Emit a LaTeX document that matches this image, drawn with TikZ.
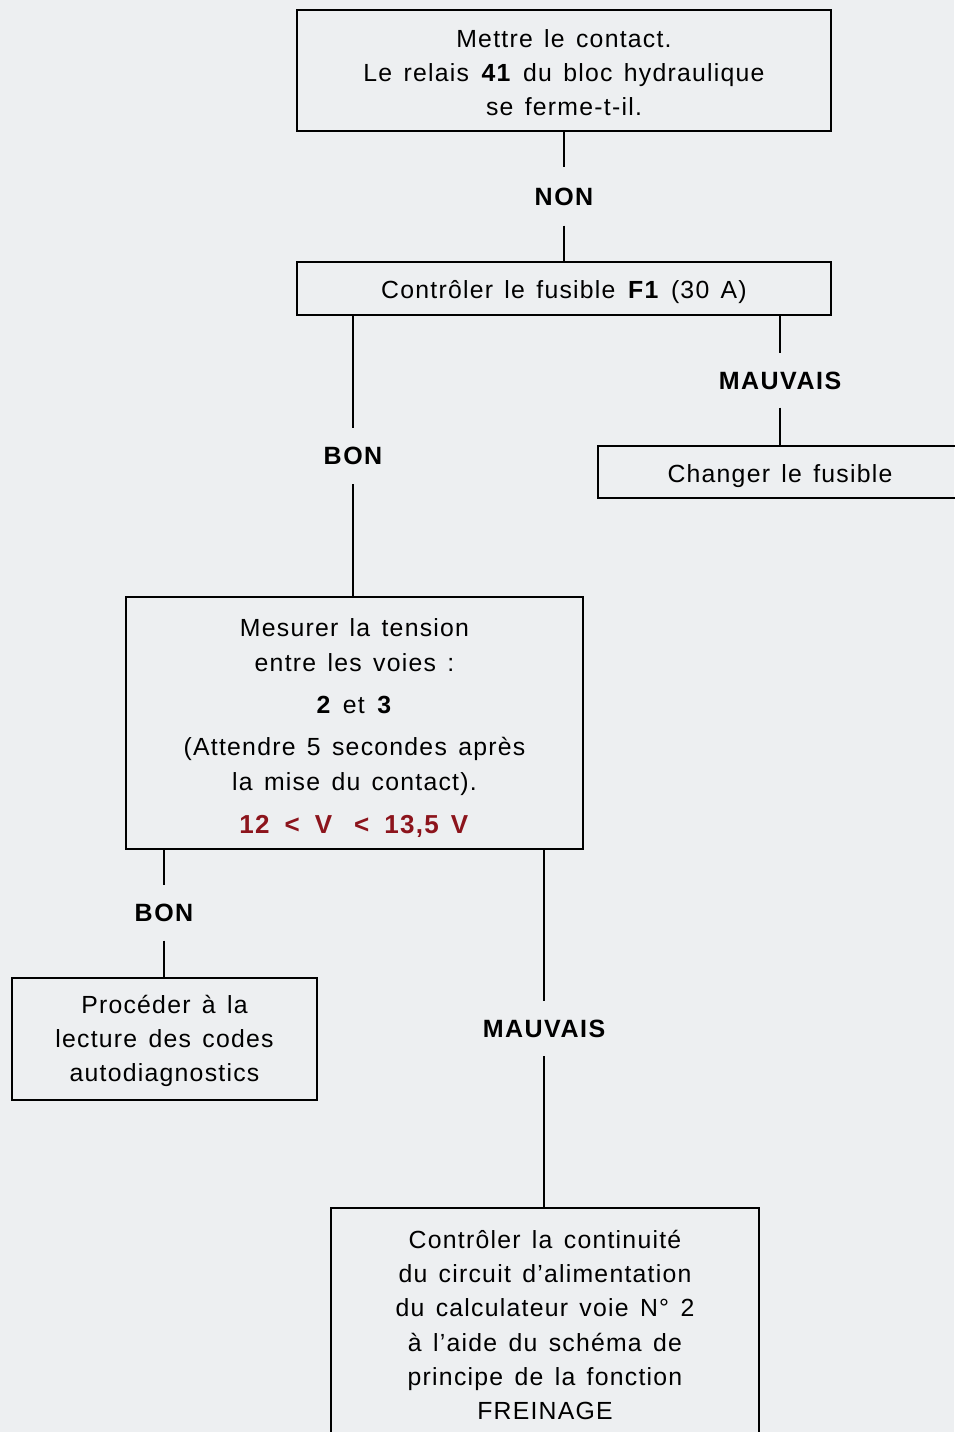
\documentclass[tikz,border=0pt]{standalone}
\usepackage{fontspec}
\setmainfont{Liberation Sans}[LetterSpace=5,WordSpace=1.4]
\newfontfamily\labfam{Liberation Sans}[LetterSpace=6]
\definecolor{bg}{RGB}{237,239,241}
\definecolor{rd}{RGB}{140,20,28}
\newcommand{\gp}{\hspace{15pt}}
\newcommand{\dn}[1]{\rule{0pt}{\dimexpr18.5pt+#1\relax}}
\tikzset{
  box/.style={draw, line width=1.8pt, align=center, inner sep=0pt, font=\fontsize{24.8}{34.3}\selectfont},
  lab/.style={inner sep=0pt, font=\labfam\bfseries\fontsize{25}{28}\selectfont},
  wire/.style={line width=1.8pt}
}
\begin{document}
\begin{tikzpicture}[x=1pt,y=-1pt]
\useasboundingbox (0,0) rectangle (954,1432);
\fill[bg] (0,0) rectangle (954,1432);
\node[box, minimum width=534, minimum height=121] (b1) at (564,70.5)
  {\dn{4pt}Mettre le contact.\\Le relais \textbf{41} du bloc hydraulique\\se ferme-t-il.};
\node[box, minimum width=534, minimum height=53] (b2) at (564,288.5)
  {\dn{6pt}Contrôler le fusible \textbf{F1} (30 A)};
\node[box, minimum width=364, minimum height=52] (b3) at (780,472)
  {\dn{7pt}Changer le fusible};
\node[box, minimum width=457, minimum height=252] (b4) at (354.5,723)
  {\dn{10pt}Mesurer la tension\\entre les voies :\\[8pt]\textbf{2} et \textbf{3}\\[8pt](Attendre 5 secondes après\\la mise du contact).\\[9pt]\textcolor{rd}{\fontsize{26}{30}\selectfont\textbf{12\gp<\gp V\gp\hspace{7pt}<\gp13,5 V}}};
\node[box, minimum width=305, minimum height=122] (b5) at (164.5,1039)
  {\dn{4pt}Procéder à la\\lecture des codes\\autodiagnostics};
\node[box, minimum width=428, minimum height=234] (b6) at (545,1325)
  {Contrôler la continuité\\du circuit d'alimentation\\du calculateur voie N° 2\\à l'aide du schéma de\\principe de la fonction\\FREINAGE};
% labels
\node[lab, minimum height=58] (non) at (564,196.5) {NON};
\node[lab, minimum height=56] (bon1) at (353,456) {BON};
\node[lab, minimum height=54] (mau1) at (780,380.5) {MAUVAIS};
\node[lab, minimum height=55] (bon2) at (164,913) {BON};
\node[lab, minimum height=55] (mau2) at (544,1028.5) {MAUVAIS};
% connectors
\draw[wire] (b1.south -| non) -- (non.north);
\draw[wire] (non.south) -- (b2.north -| non);
\draw[wire] (b2.south -| bon1) -- (bon1.north);
\draw[wire] (bon1.south) -- (b4.north -| bon1);
\draw[wire] (b2.south -| mau1) -- (mau1.north);
\draw[wire] (mau1.south) -- (b3.north -| mau1);
\draw[wire] (b4.south -| bon2) -- (bon2.north);
\draw[wire] (bon2.south) -- (b5.north -| bon2);
\draw[wire] (b4.south -| mau2) -- (mau2.north);
\draw[wire] (mau2.south) -- (b6.north -| mau2);
\end{tikzpicture}
\end{document}
